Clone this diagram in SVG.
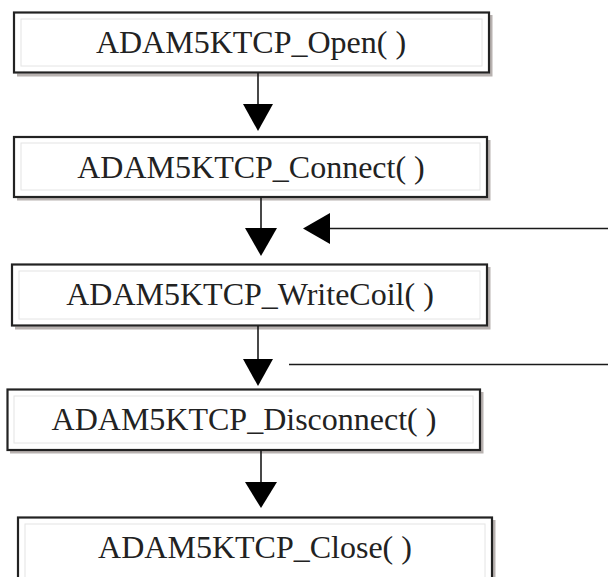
<svg xmlns="http://www.w3.org/2000/svg" width="608" height="577" viewBox="0 0 608 577">
  <style>
    .shadow { fill: none; stroke: #b8b2b0; stroke-width: 3; }
    .box { fill: #ffffff; stroke: #222222; stroke-width: 2.2; }
    .inner { fill: none; stroke: #e4e4e4; stroke-width: 1; }
    .label { font-family: "Liberation Serif", "Times New Roman", serif; font-size: 32px; fill: #222222; text-anchor: middle; }
    .line { stroke: #1a1a1a; stroke-width: 1.6; fill: none; }
    .head { fill: #000000; }
  </style>
  <rect width="608" height="577" fill="#ffffff"/>

  <g id="node-open">
    <polyline class="shadow" points="491,15 491,75 17,75"/>
    <rect class="box" x="14" y="12.5" width="475" height="60"/>
    <rect class="inner" x="21" y="19" width="461" height="47"/>
    <text class="label" x="251" y="53">ADAM5KTCP_Open( )</text>
  </g>

  <g id="node-connect">
    <polyline class="shadow" points="489,140 489,199 17,199"/>
    <rect class="box" x="14" y="137" width="473" height="60"/>
    <rect class="inner" x="21" y="143" width="459" height="47"/>
    <text class="label" x="251" y="178">ADAM5KTCP_Connect( )</text>
  </g>

  <g id="node-writecoil">
    <polyline class="shadow" points="489,267 489,328 15,328"/>
    <rect class="box" x="12" y="264.5" width="475" height="61"/>
    <rect class="inner" x="19" y="271" width="461" height="48"/>
    <text class="label" x="250" y="305">ADAM5KTCP_WriteCoil( )</text>
  </g>

  <g id="node-disconnect">
    <polyline class="shadow" points="482,392 482,452 10,452"/>
    <rect class="box" x="7.5" y="389.5" width="472.5" height="60.5"/>
    <rect class="inner" x="14" y="396" width="459" height="47"/>
    <text class="label" x="244" y="430">ADAM5KTCP_Disconnect( )</text>
  </g>

  <g id="node-close">
    <polyline class="shadow" points="494,520 494,590"/>
    <rect class="box" x="18" y="517.5" width="474" height="70"/>
    <rect class="inner" x="25" y="524" width="460" height="60"/>
    <text class="label" x="255" y="558">ADAM5KTCP_Close( )</text>
  </g>

  <g id="connectors">
    <line class="line" x1="258" y1="73" x2="258" y2="106"/>
    <polygon class="head" points="243,104 273,104 258,131"/>

    <line class="line" x1="261" y1="197" x2="261" y2="230"/>
    <polygon class="head" points="245,228 277,228 261,256"/>

    <line class="line" x1="328" y1="228.5" x2="608" y2="228.5"/>
    <polygon class="head" points="303,228.5 330,213 330,244"/>

    <line class="line" x1="258" y1="326" x2="258" y2="361"/>
    <polygon class="head" points="243,359 273,359 258,386"/>

    <line class="line" x1="289" y1="364.5" x2="608" y2="364.5"/>

    <line class="line" x1="261" y1="450" x2="261" y2="484"/>
    <polygon class="head" points="245,482 277,482 261,508"/>
  </g>
</svg>
